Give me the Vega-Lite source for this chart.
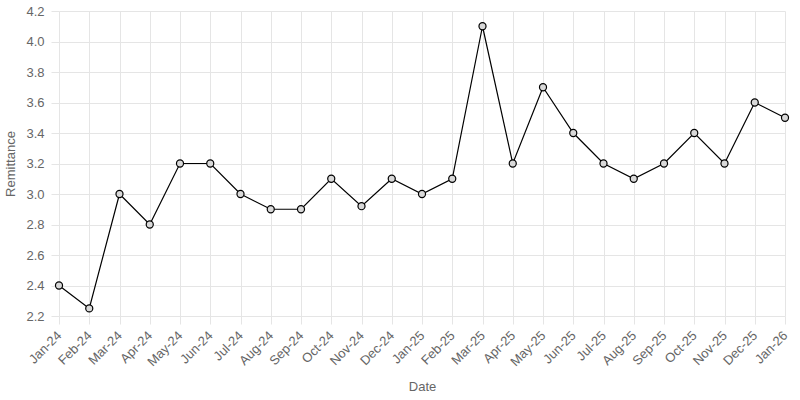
{
  "$schema": "https://vega.github.io/schema/vega-lite/v6.json",
  "autosize": {"type": "none"},
  "width": 726,
  "height": 305,
  "padding": {"left": 59, "top": 11, "right": 15, "bottom": 84},
  "background": "white",
  "config": {
    "view": {"stroke": null},
    "font": "Liberation Sans",
    "axis": {
      "labelColor": "#666666",
      "titleColor": "#666666",
      "labelFontSize": 13,
      "titleFontSize": 13,
      "titleFontWeight": "normal",
      "gridColor": "#e5e5e5",
      "tickColor": "#e5e5e5",
      "domain": false,
      "tickSize": 8
    }
  },
  "data": {
    "values": [
      {"date": "Jan-24", "value": 2.4},
      {"date": "Feb-24", "value": 2.25},
      {"date": "Mar-24", "value": 3.0},
      {"date": "Apr-24", "value": 2.8},
      {"date": "May-24", "value": 3.2},
      {"date": "Jun-24", "value": 3.2},
      {"date": "Jul-24", "value": 3.0},
      {"date": "Aug-24", "value": 2.9},
      {"date": "Sep-24", "value": 2.9},
      {"date": "Oct-24", "value": 3.1},
      {"date": "Nov-24", "value": 2.92},
      {"date": "Dec-24", "value": 3.1},
      {"date": "Jan-25", "value": 3.0},
      {"date": "Feb-25", "value": 3.1},
      {"date": "Mar-25", "value": 4.1},
      {"date": "Apr-25", "value": 3.2},
      {"date": "May-25", "value": 3.7},
      {"date": "Jun-25", "value": 3.4},
      {"date": "Jul-25", "value": 3.2},
      {"date": "Aug-25", "value": 3.1},
      {"date": "Sep-25", "value": 3.2},
      {"date": "Oct-25", "value": 3.4},
      {"date": "Nov-25", "value": 3.2},
      {"date": "Dec-25", "value": 3.6},
      {"date": "Jan-26", "value": 3.5}
    ]
  },
  "encoding": {
    "x": {
      "field": "date",
      "type": "ordinal",
      "sort": null,
      "scale": {"type": "point", "padding": 0},
      "axis": {"title": "Date", "labelAngle": -45, "labelAlign": "right", "labelBaseline": "middle", "labelPadding": 9, "grid": true, "titlePadding": 12}
    },
    "y": {
      "field": "value",
      "type": "quantitative",
      "scale": {"domain": [2.2, 4.2], "nice": false, "zero": false},
      "axis": {"title": "Remittance", "values": [2.2, 2.4, 2.6, 2.8, 3.0, 3.2, 3.4, 3.6, 3.8, 4.0, 4.2], "format": ".1f", "labelPadding": 7, "titlePadding": 8}
    }
  },
  "layer": [
    {"mark": {"type": "line", "color": "#000000", "strokeWidth": 1.2}},
    {"mark": {"type": "point", "shape": "circle", "filled": true, "fill": "#d9d9d9", "fillOpacity": 1, "stroke": "#000000", "strokeWidth": 1.2, "size": 50, "opacity": 1}}
  ]
}
